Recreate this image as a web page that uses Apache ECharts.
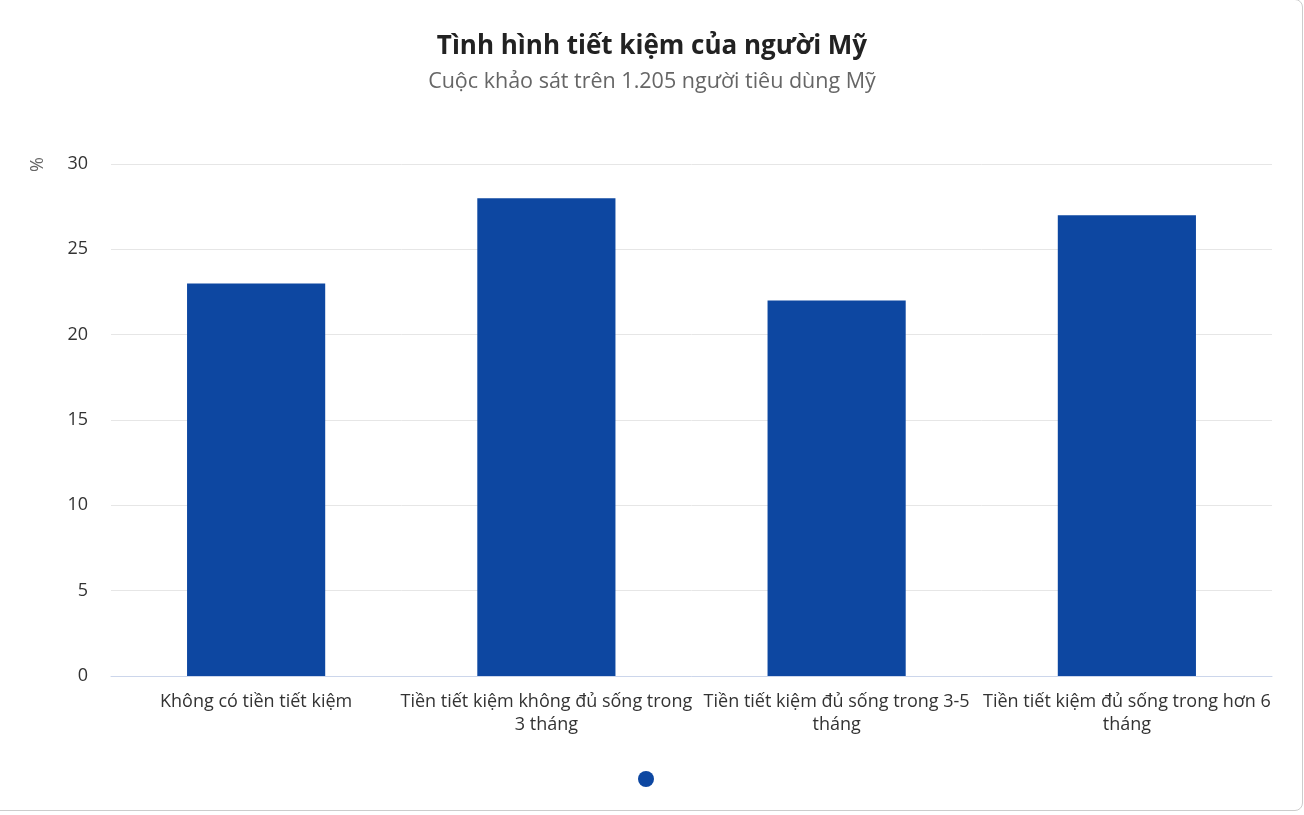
<!DOCTYPE html>
<html>
<head>
<meta charset="utf-8">
<script src="https://cdn.jsdelivr.net/npm/echarts@6/dist/echarts.min.js"></script>
<style>
html,body{margin:0;padding:0;background:#fff;overflow:hidden;}
#card{position:absolute;left:-12px;top:-1px;width:1315px;height:812px;border:1px solid #cccccc;border-radius:8px;box-sizing:border-box;}
#chart{position:absolute;left:0;top:0;width:1304px;height:815px;}
</style>
</head>
<body>
<div id="card"></div>
<div id="chart"></div>
<script>
const titleText = 'Tình hình tiết kiệm của người Mỹ';
const subtitleText = 'Cuộc khảo sát trên 1.205 người tiêu dùng Mỹ';
const categories = [
  'Không có tiền tiết kiệm',
  'Tiền tiết kiệm không đủ sống trong\n3 tháng',
  'Tiền tiết kiệm đủ sống trong 3-5\ntháng',
  'Tiền tiết kiệm đủ sống trong hơn 6\ntháng'
];
const values = [23, 28, 22, 27];
const yUnit = '%';

const FONT = '"Open Sans", "Noto Sans", sans-serif';
const chart = echarts.init(document.getElementById('chart'));
chart.setOption({
  animation: false,
  title: {
    text: titleText,
    subtext: subtitleText,
    left: 'center',
    top: 29,
    itemGap: 11,
    textStyle: {fontFamily: FONT, fontSize: 26, fontWeight: 'bold', color: '#222222'},
    subtextStyle: {fontFamily: FONT, fontSize: 21.5, color: '#666666'}
  },
  legend: {
    bottom: 23,
    left: 633,
    icon: 'circle',
    itemWidth: 16,
    itemHeight: 16,
    itemGap: 0,
    textStyle: {fontSize: 1},
    data: [' ']
  },
  grid: {left: 111, right: 32, top: 164, bottom: 139, containLabel: false},
  graphic: [{
    type: 'text',
    left: 29,
    top: 157,
    rotation: Math.PI / 2,
    style: {text: yUnit, fontFamily: FONT, fontSize: 18, fill: '#666666'}
  }],
  xAxis: {
    type: 'category',
    data: categories,
    axisLine: {lineStyle: {color: '#ccd6eb', width: 1}},
    axisTick: {show: false},
    axisLabel: {
      fontFamily: FONT, fontSize: 18, color: '#333333', margin: 14,
      lineHeight: 23, interval: 0
    }
  },
  yAxis: {
    type: 'value',
    min: 0, max: 30, interval: 5,
    axisLine: {show: false},
    axisTick: {show: false},
    splitLine: {lineStyle: {color: '#e6e6e6', width: 1}},
    axisLabel: {fontFamily: FONT, fontSize: 18, color: '#333333', margin: 23}
  },
  series: [{
    name: ' ',
    type: 'bar',
    data: values,
    barWidth: '47.6%',
    itemStyle: {color: '#0d47a1'}
  }]
});
</script>
</body>
</html>
